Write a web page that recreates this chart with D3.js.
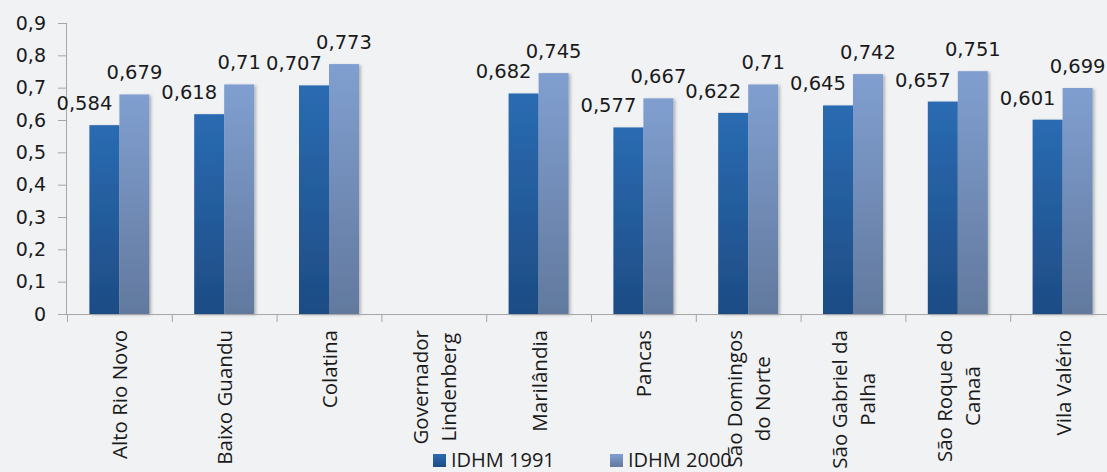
<!DOCTYPE html>
<html><head><meta charset="utf-8">
<script src="https://cdn.jsdelivr.net/npm/d3@7"></script>
<style>
html,body{margin:0;padding:0;background:#f1f2f4;}
svg{display:block;}
text{font-family:"DejaVu Sans",sans-serif;fill:#1a1a1a;}
</style></head>
<body>
<svg id="chart" width="1107" height="472"></svg>
<script>
const categories = [
  ["Alto Rio Novo"], ["Baixo Guandu"], ["Colatina"], ["Governador","Lindenberg"],
  ["Marilândia"], ["Pancas"], ["São Domingos","do Norte"], ["São Gabriel da","Palha"],
  ["São Roque do","Canaã"], ["Vila Valério"]
];
const idhm1991 = [0.584, 0.618, 0.707, null, 0.682, 0.577, 0.622, 0.645, 0.657, 0.601];
const idhm2000 = [0.679, 0.71, 0.773, null, 0.745, 0.667, 0.71, 0.742, 0.751, 0.699];
const yTicks = [0, 0.1, 0.2, 0.3, 0.4, 0.5, 0.6, 0.7, 0.8, 0.9];
const seriesNames = ["IDHM 1991", "IDHM 2000"];

const svg = d3.select("#chart");
const defs = svg.append("defs");
function grad(id, top, bottom){
  const g = defs.append("linearGradient").attr("id", id).attr("x1",0).attr("y1",0).attr("x2",0).attr("y2",1);
  g.append("stop").attr("offset","0%").attr("stop-color",top);
  g.append("stop").attr("offset","100%").attr("stop-color",bottom);
}
grad("g1991", "#2a6bb2", "#1d4c84");
grad("g2000", "#809fd0", "#62799e");
const f = defs.append("filter").attr("id","sh").attr("x","-20%").attr("y","-20%").attr("width","150%").attr("height","150%");
f.append("feDropShadow").attr("dx",2).attr("dy",1).attr("stdDeviation",1.5).attr("flood-color","#000").attr("flood-opacity",0.25);

const x0 = 67, plotRight = 1115, yTop = 23, yBottom = 314;
const x = d3.scaleBand().domain(d3.range(categories.length)).range([x0, plotRight]).paddingInner(0).paddingOuter(0);
const y = d3.scaleLinear().domain([0, 0.9]).range([yBottom, yTop]);
const barW = 30;

// y axis
const yAxis = d3.axisLeft(y).tickValues(yTicks).tickSize(9).tickPadding(12)
  .tickFormat(d => d3.format(".1f")(d).replace(".", ",").replace(/^0,0$/, "0"));
const ya = svg.append("g").attr("transform", `translate(${x0},0)`).call(yAxis);
ya.select(".domain").attr("stroke", "#a6a6a6").attr("d", `M-0.5,${yTop}V${yBottom}`);
ya.selectAll(".tick line").attr("stroke", "#a6a6a6");
ya.selectAll(".tick text").style("font-size", "19px").style("font-family", "DejaVu Sans").attr("fill", "#1a1a1a");

// bars
const groups = svg.append("g").selectAll("g").data(categories).join("g");
groups.each(function(c, i){
  const g = d3.select(this);
  const cx = x(i) + x.bandwidth()/2;
  [[idhm1991[i], "g1991", -barW, -20], [idhm2000[i], "g2000", 0, 0]].forEach(([v, gid, off, dx]) => {
    if (v == null) return;
    g.append("rect").attr("x", cx + off).attr("y", y(v)).attr("width", barW)
      .attr("height", y(0) - y(v)).attr("fill", `url(#${gid})`).attr("filter", "url(#sh)");
    g.append("text").attr("x", cx + off + barW/2 + dx).attr("y", y(v) - 15)
      .attr("text-anchor", "middle").style("font-size", "19.5px")
      .text(String(v).replace(".", ","));
  });
});

// x axis
const xa = svg.append("g").attr("transform", `translate(0,${yBottom})`);
xa.append("line").attr("x1", x0 - 9).attr("x2", 1107).attr("y1", 0.5).attr("y2", 0.5).attr("stroke", "#a6a6a6");
d3.range(categories.length).forEach(i => {
  xa.append("line").attr("x1", x(i) + 0.5).attr("x2", x(i) + 0.5).attr("y1", 0).attr("y2", 8).attr("stroke", "#a6a6a6");
});
// labels rotated
const lineGap = 28.5;
categories.forEach((lines, i) => {
  const cx = x(i) + x.bandwidth()/2;
  const g = svg.append("g");
  const texts = lines.map((l, k) => g.append("text").style("font-size", "20.5px").style("font-family", "Open Sans").attr("text-anchor", "middle").text(l));
  const maxW = d3.max(texts, t => t.node().getComputedTextLength());
  const n = lines.length;
  texts.forEach((t, k) => {
    const colX = cx + (k - (n - 1)/2) * lineGap + 8;
    const midY = 330 + maxW/2;
    t.attr("transform", `translate(${colX},${midY}) rotate(-90)`);
  });
});

// legend
const leg = svg.append("g");
[[433, "g1991"], [610, "g2000"]].forEach(([lx, gid], k) => {
  leg.append("rect").attr("x", lx).attr("y", 454).attr("width", 13).attr("height", 13).attr("fill", `url(#${gid})`);
  leg.append("text").attr("x", lx + 18).attr("y", 466.5).style("font-size", "20px").style("font-family", "Open Sans").text(seriesNames[k]);
});
</script>
</body></html>
